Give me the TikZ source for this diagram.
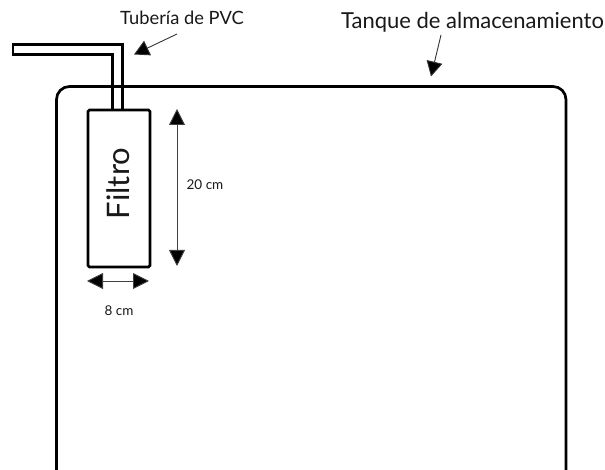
\documentclass[tikz,border=0pt]{standalone}
\usepackage{fontspec}
\setmainfont{Lato}
\usetikzlibrary{arrows.meta}
\tikzset{
 x=1pt,y=-1pt,
 wall/.style={draw=black,line width=2.7pt},
 dim/.style={draw=black!75,line width=.9pt,{Triangle[length=16pt,width=16pt,fill=black]}-{Triangle[length=16pt,width=16pt,fill=black]}},
 lead/.style={draw=black!80,line width=.9pt,-{Triangle[length=15pt,width=16pt,fill=black]}},
 label/.style={inner sep=0pt,text=black!90},
 small/.style={inner sep=0pt,text=black!90,font=\fontsize{13.5}{15}\selectfont}
}
\begin{document}
\begin{tikzpicture}
\useasboundingbox[fill=white] (0,0) rectangle (605,470);
% tank
\draw[wall,rounded corners=13pt] (56.5,470) -- (56.5,86.5) -- (566,86.5) -- (566,470);
% pipe
\draw[wall,line width=2.5pt] (112.5,109) -- (112.5,54.5) -- (13,54.5) -- (13,44.5) -- (122.5,44.5) -- (122.5,109);
% filter
\node[wall,rounded corners=1.5pt,minimum width=62pt,minimum height=157pt,inner sep=0pt,outer sep=0pt,anchor=north west,fill=none] (filtro) at (88,110) {};
\node[rotate=90,inner sep=0pt,font=\fontsize{31}{35}\selectfont,text=black!90] (filtrotxt) at (118.5,183.5) {Filtro};
% dimensions
\coordinate (h1) at (177,109); \coordinate (h2) at (177,266);
\draw[dim] (h1) -- (h2);
\coordinate (w1) at (87,281); \coordinate (w2) at (149,281);
\draw[dim] (w1) -- (w2);
\node[small] (d20) at (205,184.5) {20 cm};
\node[small] (d8) at (119,310.5) {8 cm};
% labels
\node[label,font=\fontsize{18.3}{21}\selectfont] (tub) at (182,18) {Tubería de PVC};
\node[label,font=\fontsize{22}{25}\selectfont] (tan) at (472.5,22) {Tanque de almacenamiento};
\coordinate (a1) at (177,34); \coordinate (a2) at (134,54.5);
\draw[lead] (a1) -- (a2);
\coordinate (b1) at (441,35); \coordinate (b2) at (431,76.5);
\draw[lead] (b1) -- (b2);
\end{tikzpicture}
\end{document}
